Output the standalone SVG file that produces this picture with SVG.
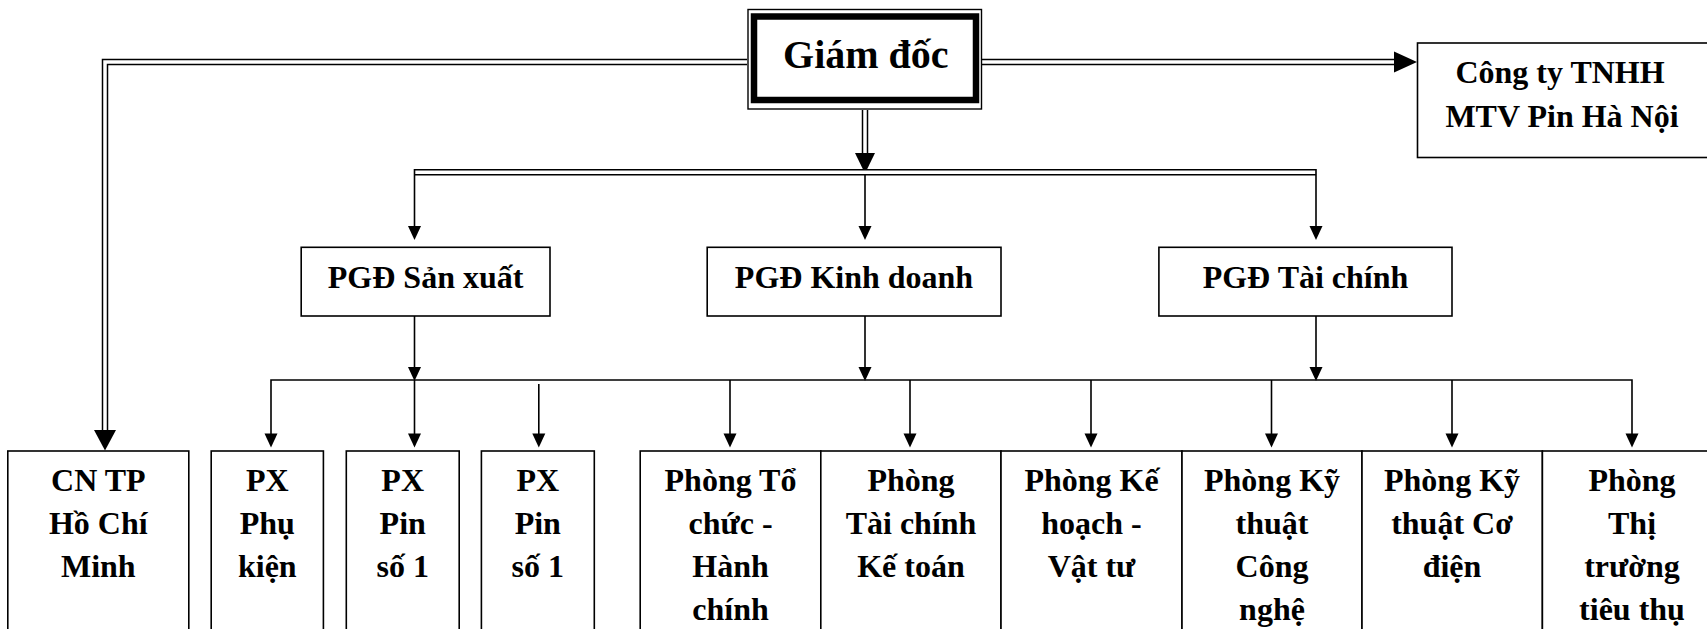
<svg xmlns="http://www.w3.org/2000/svg" width="1707" height="629" viewBox="0 0 1707 629">
<defs>
<style>
.box{fill:#fff;stroke:#000;stroke-width:1.6}
.t{font-family:"Liberation Serif","Times New Roman",serif;font-weight:bold;font-size:32px;text-anchor:middle;fill:#000}
.big{font-size:40px}
.dblo{fill:none;stroke:#000;stroke-width:6.5}
.dbli{fill:none;stroke:#fff;stroke-width:3.5}
.ln{fill:none;stroke:#000;stroke-width:1.6}
.ah{fill:#000}
</style>
</defs>
<rect width="1707" height="629" fill="#fff"/>
<g id="connectors">
  <path class="dblo" d="M747,62 H105 V431"/>
  <path class="dbli" d="M747,62 H105 V431"/>
  <polygon class="ah" points="94,430 116,430 105,450.5"/>
  <path class="dblo" d="M982,62 H1395"/>
  <path class="dbli" d="M982,62 H1395"/>
  <polygon class="ah" points="1394,51.5 1394,72.5 1417,62"/>
  <path class="dblo" d="M865,110 V154"/>
  <path class="dbli" d="M865,110 V154"/>
  <polygon class="ah" points="855,153 875,153 865,173.5"/>
  <path class="dblo" d="M414.5,172.2 H1316"/>
  <path class="dbli" d="M414.5,172.2 H1316"/>
  <path class="ln" d="M414.5,169 V228 M865,174 V228 M1316,169 V228"/>
  <polygon class="ah" points="408,226 421,226 414.5,240"/>
  <polygon class="ah" points="858.5,226 871.5,226 865,240"/>
  <polygon class="ah" points="1309.5,226 1322.5,226 1316,240"/>
  <path class="ln" d="M414.5,316 V369 M865,316 V369 M1316,316 V369"/>
  <polygon class="ah" points="408,367 421,367 414.5,381"/>
  <polygon class="ah" points="858.5,367 871.5,367 865,381"/>
  <polygon class="ah" points="1309.5,367 1322.5,367 1316,381"/>
  <path class="ln" d="M271,436 V380 H1632 V436"/>
  <path class="ln" d="M414.5,380 V436 M538.8,384 V436 M730,380 V436 M910,380 V436 M1091,380 V436 M1271.5,380 V436 M1452,380 V436"/>
  <polygon class="ah" points="264.5,433.5 277.5,433.5 271,447.5"/>
  <polygon class="ah" points="408,433.5 421,433.5 414.5,447.5"/>
  <polygon class="ah" points="532.3,433.5 545.3,433.5 538.8,447.5"/>
  <polygon class="ah" points="723.5,433.5 736.5,433.5 730,447.5"/>
  <polygon class="ah" points="903.5,433.5 916.5,433.5 910,447.5"/>
  <polygon class="ah" points="1084.5,433.5 1097.5,433.5 1091,447.5"/>
  <polygon class="ah" points="1265,433.5 1278,433.5 1271.5,447.5"/>
  <polygon class="ah" points="1445.5,433.5 1458.5,433.5 1452,447.5"/>
  <polygon class="ah" points="1625.5,433.5 1638.5,433.5 1632,447.5"/>
</g>
<g id="giam-doc">
  <rect x="748" y="9.5" width="233.5" height="99.5" fill="#fff" stroke="#000" stroke-width="1.4"/>
  <rect x="754" y="16.5" width="222" height="83.5" fill="#fff" stroke="#000" stroke-width="6.5"/>
  <text class="t big" x="865.8" y="68.3">Giám đốc</text>
</g>
<g id="cong-ty">
  <rect class="box" x="1417.5" y="43" width="300" height="114.5"/>
  <text class="t" x="1560" y="83.3">Công ty TNHH</text>
  <text class="t" x="1562" y="126.7">MTV Pin Hà Nội</text>
</g>
<g id="pgd-sx">
  <rect class="box" x="301.2" y="247.3" width="248.8" height="68.7"/>
  <text class="t" x="425.6" y="288.3">PGĐ Sản xuất</text>
</g>
<g id="pgd-kd">
  <rect class="box" x="707.2" y="247.3" width="293.8" height="68.7"/>
  <text class="t" x="854" y="288.3">PGĐ Kinh doanh</text>
</g>
<g id="pgd-tc">
  <rect class="box" x="1158.9" y="247.3" width="293.1" height="68.7"/>
  <text class="t" x="1305.5" y="288.3">PGĐ Tài chính</text>
</g>
<g id="cn-tp">
  <rect class="box" x="7.8" y="451" width="181" height="200"/>
  <text class="t" x="98.3" y="490.5">CN TP</text>
  <text class="t" x="98.3" y="533.5">Hồ Chí</text>
  <text class="t" x="98.3" y="576.5">Minh</text>
</g>
<g id="px-phu-kien">
  <rect class="box" x="211.2" y="451" width="112.2" height="200"/>
  <text class="t" x="267.3" y="490.5">PX</text>
  <text class="t" x="267.3" y="533.5">Phụ</text>
  <text class="t" x="267.3" y="576.5">kiện</text>
</g>
<g id="px-pin-1a">
  <rect class="box" x="346.3" y="451" width="112.9" height="200"/>
  <text class="t" x="402.7" y="490.5">PX</text>
  <text class="t" x="402.7" y="533.5">Pin</text>
  <text class="t" x="402.7" y="576.5">số 1</text>
</g>
<g id="px-pin-1b">
  <rect class="box" x="481.4" y="451" width="112.9" height="200"/>
  <text class="t" x="537.8" y="490.5">PX</text>
  <text class="t" x="537.8" y="533.5">Pin</text>
  <text class="t" x="537.8" y="576.5">số 1</text>
</g>
<g id="phong-to-chuc">
  <rect class="box" x="640.2" y="451" width="180.6" height="200"/>
  <text class="t" x="730.5" y="490.5">Phòng Tổ</text>
  <text class="t" x="730.5" y="533.5">chức -</text>
  <text class="t" x="730.5" y="576.5">Hành</text>
  <text class="t" x="730.5" y="619.5">chính</text>
</g>
<g id="phong-tai-chinh">
  <rect class="box" x="820.8" y="451" width="180.2" height="200"/>
  <text class="t" x="911" y="490.5">Phòng</text>
  <text class="t" x="911" y="533.5">Tài chính</text>
  <text class="t" x="911" y="576.5">Kế toán</text>
</g>
<g id="phong-ke-hoach">
  <rect class="box" x="1001" y="451" width="181" height="200"/>
  <text class="t" x="1091.5" y="490.5">Phòng Kế</text>
  <text class="t" x="1091.5" y="533.5">hoạch -</text>
  <text class="t" x="1091.5" y="576.5">Vật tư</text>
</g>
<g id="phong-ky-thuat-cn">
  <rect class="box" x="1182" y="451" width="180" height="200"/>
  <text class="t" x="1272" y="490.5">Phòng Kỹ</text>
  <text class="t" x="1272" y="533.5">thuật</text>
  <text class="t" x="1272" y="576.5">Công</text>
  <text class="t" x="1272" y="619.5">nghệ</text>
</g>
<g id="phong-ky-thuat-cd">
  <rect class="box" x="1362" y="451" width="180.4" height="200"/>
  <text class="t" x="1452" y="490.5">Phòng Kỹ</text>
  <text class="t" x="1452" y="533.5">thuật Cơ</text>
  <text class="t" x="1452" y="576.5">điện</text>
</g>
<g id="phong-thi-truong">
  <rect class="box" x="1542.4" y="451" width="180" height="200"/>
  <text class="t" x="1632" y="490.5">Phòng</text>
  <text class="t" x="1632" y="533.5">Thị</text>
  <text class="t" x="1632" y="576.5">trường</text>
  <text class="t" x="1632" y="619.5">tiêu thụ</text>
</g>
</svg>
